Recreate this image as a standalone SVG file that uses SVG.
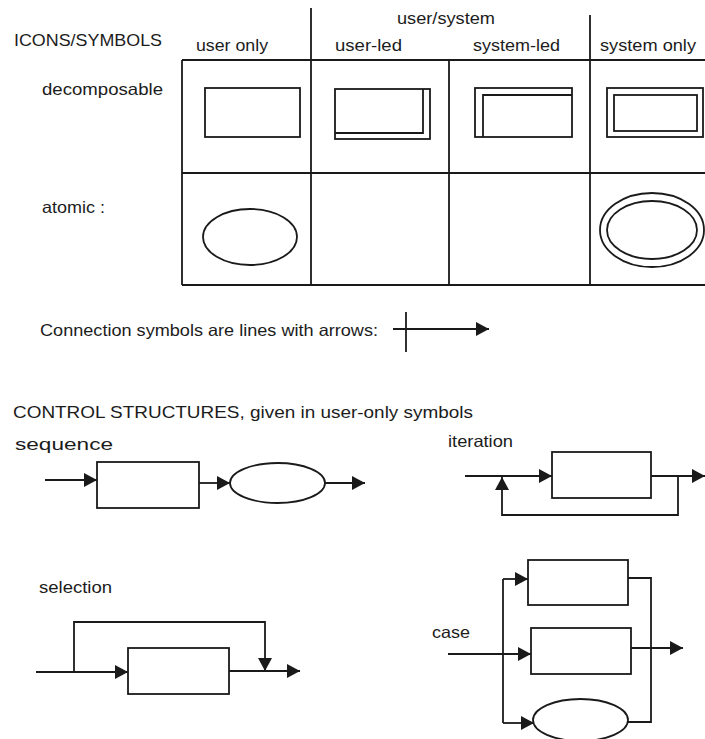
<svg xmlns="http://www.w3.org/2000/svg" width="705" height="739" viewBox="0 0 705 739">
<style>
.t{font-family:"Liberation Sans","Arial",sans-serif;font-size:16.5px;fill:#1c1c1c}
.c{font-size:17px}
.s{fill:none;stroke:#1a1a1a;stroke-width:1.8}
.w{fill:#fff;stroke:#1a1a1a;stroke-width:1.8}
.ln{fill:none;stroke:#1a1a1a;stroke-width:1.8}
.a{fill:none;stroke:#1a1a1a;stroke-width:1.8;marker-end:url(#ah)}
</style>
<defs>
<marker id="ah" markerUnits="userSpaceOnUse" markerWidth="14" markerHeight="15" refX="13" refY="7" orient="auto">
<path d="M0,0 L13,7 L0,14 Z" fill="#1a1a1a"/>
</marker>
</defs>
<rect width="705" height="739" fill="#fff"/>

<g id="labels">
<text class="t c" x="14" y="46" textLength="148" lengthAdjust="spacingAndGlyphs">ICONS/SYMBOLS</text>
<text class="t" x="196" y="51" textLength="72" lengthAdjust="spacingAndGlyphs">user only</text>
<text class="t" x="397" y="24" textLength="98" lengthAdjust="spacingAndGlyphs">user/system</text>
<text class="t" x="335" y="51" textLength="67" lengthAdjust="spacingAndGlyphs">user-led</text>
<text class="t" x="473" y="51" textLength="87" lengthAdjust="spacingAndGlyphs">system-led</text>
<text class="t" x="600" y="51" textLength="96" lengthAdjust="spacingAndGlyphs">system only</text>
<text class="t" x="42" y="95" textLength="121" lengthAdjust="spacingAndGlyphs">decomposable</text>
<text class="t" x="42" y="213" textLength="63" lengthAdjust="spacingAndGlyphs">atomic :</text>
<text class="t" x="40" y="336" textLength="338" lengthAdjust="spacingAndGlyphs">Connection symbols are lines with arrows:</text>
<text class="t c" x="13" y="418" textLength="460" lengthAdjust="spacingAndGlyphs">CONTROL STRUCTURES,  given in user-only symbols</text>
<text class="t" x="15" y="450" textLength="98" lengthAdjust="spacingAndGlyphs">sequence</text>
<text class="t" x="448" y="447" textLength="65" lengthAdjust="spacingAndGlyphs">iteration</text>
<text class="t" x="39" y="593" textLength="73" lengthAdjust="spacingAndGlyphs">selection</text>
<text class="t" x="432" y="638" textLength="38" lengthAdjust="spacingAndGlyphs">case</text>
</g>

<g id="table">
<path class="ln" d="M182,60 H705 M182,173 H705 M182,285 H705 M182,60 V285 M311,8 V285 M449,60 V285 M590,15 V285"/>
</g>

<g id="icon-user-decomposable">
<rect class="w" x="205" y="88" width="95" height="49"/>
</g>
<g id="icon-userled-decomposable">
<rect class="w" x="335" y="89" width="95" height="50"/>
<path class="s" d="M423,89 V133 H335"/>
</g>
<g id="icon-systemled-decomposable">
<rect class="w" x="475" y="88" width="97" height="49"/>
<path class="s" d="M572,95 H483 V137"/>
</g>
<g id="icon-system-decomposable">
<rect class="w" x="607" y="88" width="96" height="49"/>
<rect class="s" x="614" y="95" width="83" height="36"/>
</g>
<g id="icon-user-atomic">
<ellipse class="w" cx="250" cy="237" rx="47" ry="28"/>
</g>
<g id="icon-system-atomic">
<ellipse class="w" cx="652" cy="230" rx="52" ry="37"/>
<ellipse class="s" cx="652" cy="230" rx="45" ry="29"/>
</g>

<g id="seq-box"><rect class="w" x="97" y="462" width="102" height="46"/></g>
<g id="seq-ellipse"><ellipse class="w" cx="277.5" cy="483" rx="47.5" ry="20"/></g>
<g id="iter-box"><rect class="w" x="552" y="452" width="99" height="46"/></g>
<g id="sel-box"><rect class="w" x="128" y="648" width="101" height="46"/></g>
<g id="case-box1"><rect class="w" x="528" y="560" width="100" height="45"/></g>
<g id="case-box2"><rect class="w" x="531" y="628" width="100" height="46"/></g>
<g id="case-ellipse"><ellipse class="w" cx="580.5" cy="720" rx="47.5" ry="21"/></g>

<g id="connectors">
<path class="ln" d="M406,312 V352"/>
<path class="a" d="M393,329 H489"/>
<path class="a" d="M45,480 H97"/>
<path class="a" d="M199,483 H230"/>
<path class="a" d="M325,483 H365"/>
<path class="a" d="M465,476 H552"/>
<path class="a" d="M651,476 H705"/>
<path class="a" d="M678,476 V515 H502 V477"/>
<path class="a" d="M36,672 H128"/>
<path class="a" d="M74,672 V622 H265 V671"/>
<path class="a" d="M229,671 H300"/>
<path class="ln" d="M503,579 V723"/>
<path class="a" d="M503,579 H528"/>
<path class="a" d="M448,654 H531"/>
<path class="a" d="M503,723 H534"/>
<path class="ln" d="M628,578 H651 V722 H628"/>
<path class="a" d="M631,648 H683"/>
</g>
</svg>
